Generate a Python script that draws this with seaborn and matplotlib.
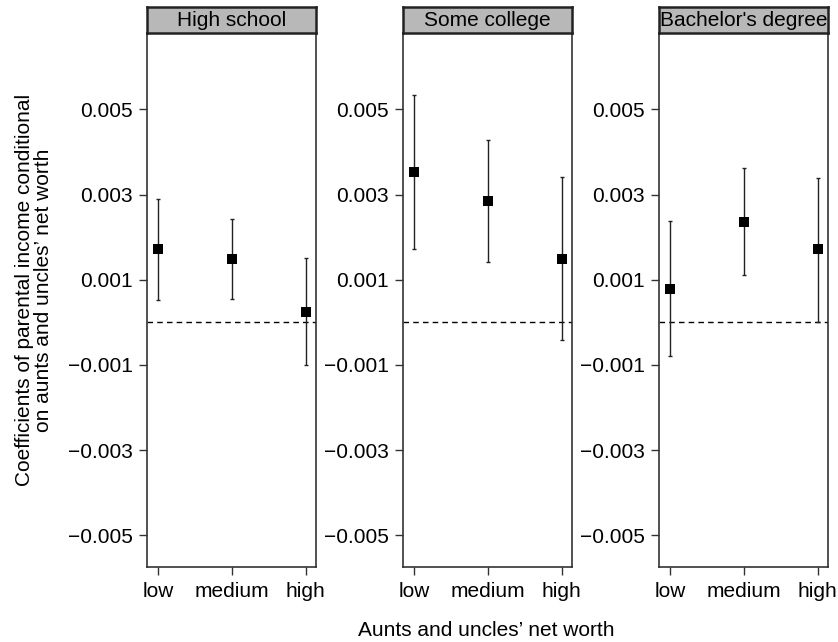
import numpy as np
import pandas as pd
import matplotlib
matplotlib.use("Agg")
import matplotlib.pyplot as plt
import seaborn as sns

# ---------------------------
# Data
# ---------------------------
panels = ["High school", "Some college", "Bachelor's degree"]
levels = ["low", "medium", "high"]

coef_hs = [0.00173, 0.00149, 0.00025]
lo_hs = [0.00052, 0.00055, -0.00100]
hi_hs = [0.00290, 0.00243, 0.00152]

coef_sc = [0.00353, 0.00284, 0.00149]
lo_sc = [0.00171, 0.00141, -0.00041]
hi_sc = [0.00534, 0.00429, 0.00341]

coef_ba = [0.00079, 0.00236, 0.00171]
lo_ba = [-0.00079, 0.00110, 0.00002]
hi_ba = [0.00238, 0.00362, 0.00338]

y_ticks = [-0.005, -0.003, -0.001, 0.001, 0.003, 0.005]

frames = []
for name, c, lo, hi in zip(panels, [coef_hs, coef_sc, coef_ba],
                           [lo_hs, lo_sc, lo_ba], [hi_hs, hi_sc, hi_ba]):
    frames.append(pd.DataFrame({"panel": name, "level": levels,
                                "pos": np.arange(1, len(levels) + 1),
                                "coef": c, "lo": lo, "hi": hi}))
df = pd.concat(frames, ignore_index=True)

# ---------------------------
# Style
# ---------------------------
sns.set_style("ticks")
plt.rcParams["font.family"] = ["Liberation Sans", "DejaVu Sans"]
plt.rcParams["text.color"] = "black"
plt.rcParams["axes.edgecolor"] = "#333333"
plt.rcParams["xtick.color"] = "#333333"
plt.rcParams["ytick.color"] = "#333333"
plt.rcParams["xtick.labelcolor"] = "black"
plt.rcParams["ytick.labelcolor"] = "black"

FS = 15
fig = plt.figure(figsize=(8.38, 6.42), dpi=100)

lefts = [147, 403, 659]
pw = 169
top_px, bot_px = 33, 567
strip_top = 7
W, H = 838, 642

for left, name in zip(lefts, panels):
    sub = df[df["panel"] == name]
    ax = fig.add_axes([left / W, 1 - bot_px / H, pw / W, (bot_px - top_px) / H])
    ax.axhline(0, color="black", lw=1, ls=(0, (4, 3)), zorder=1)
    ax.vlines(sub["pos"], sub["lo"], sub["hi"], color="#222222", lw=1, zorder=2)
    ax.hlines(sub["lo"], sub["pos"] - 0.025, sub["pos"] + 0.025, color="#222222", lw=1)
    ax.hlines(sub["hi"], sub["pos"] - 0.025, sub["pos"] + 0.025, color="#222222", lw=1)
    sns.scatterplot(data=sub, x="pos", y="coef", marker="s", s=60, color="black",
                    edgecolor="black", linewidth=0, ax=ax, zorder=3)
    ax.set_xlim(0.85, 3.14)
    ax.set_ylim(-0.00574, 0.00679)
    ax.set_xticks(sub["pos"])
    ax.set_xticklabels(levels)
    ax.set_yticks(y_ticks)
    ax.set_yticklabels([f"{t:.3f}".replace("-", "\u2212") for t in y_ticks])
    ax.tick_params(labelsize=FS, length=5.5, width=1)
    ax.tick_params(axis="y", pad=5)
    ax.tick_params(axis="x", pad=5)
    ax.set_xlabel("")
    ax.set_ylabel("")
    for sp in ax.spines.values():
        sp.set_visible(True)
        sp.set_linewidth(1.2)

    # strip header
    sax = fig.add_axes([left / W, 1 - top_px / H, pw / W, (top_px - strip_top) / H])
    sax.set_facecolor("#b8b8b8")
    sax.set_xticks([])
    sax.set_yticks([])
    for sp in sax.spines.values():
        sp.set_visible(True)
        sp.set_linewidth(1.8)
        sp.set_edgecolor("#222222")
    sax.text(0.5, 0.47, name, ha="center", va="center", fontsize=FS,
             color="black", transform=sax.transAxes)

fig.text(486 / W, 1 - 630 / H, "Aunts and uncles\u2019 net worth",
         ha="center", va="center", fontsize=FS, color="black")
fig.text(34 / W, 1 - 290 / H,
         "Coefficients of parental income conditional\non aunts and uncles\u2019 net worth",
         ha="center", va="center", rotation=90, fontsize=FS, linespacing=1.05,
         color="black")

fig.savefig("out.png", dpi=100)
